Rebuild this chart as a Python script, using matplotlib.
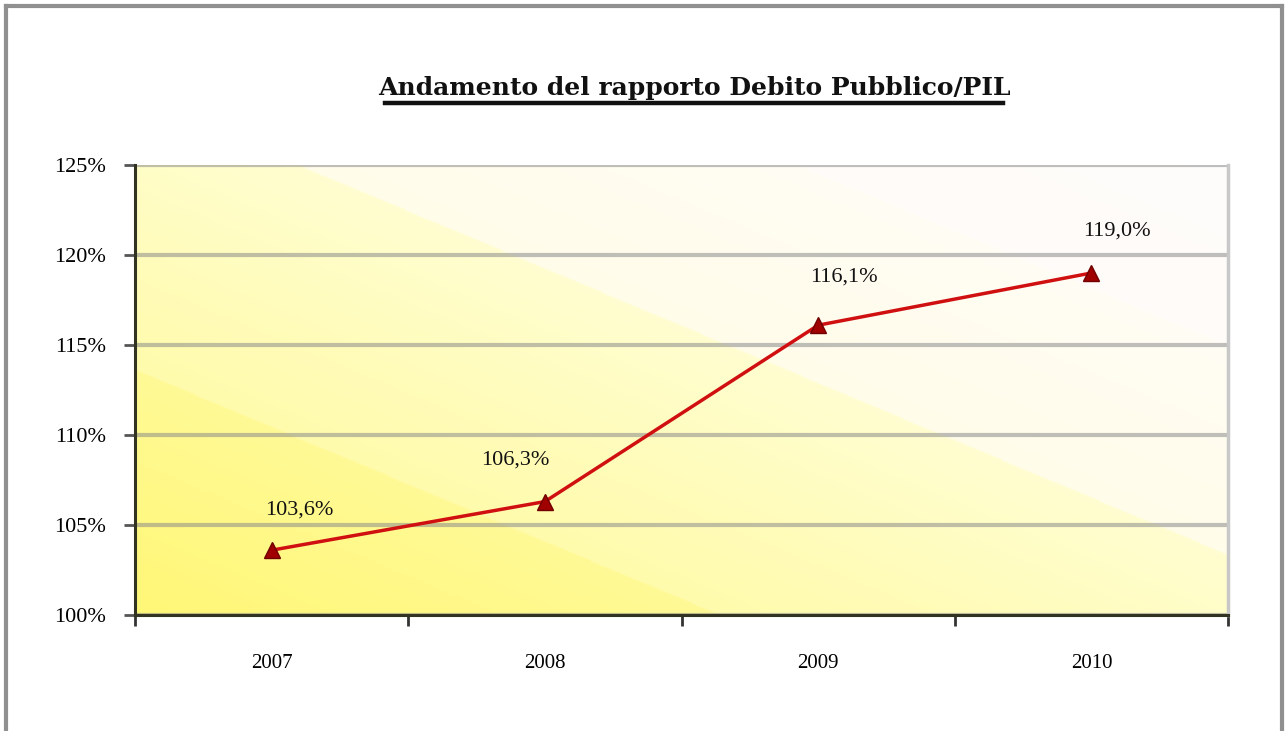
#!/usr/bin/env python
# -*- coding: utf-8 -*-

"""
Andamento del rapporto Debito Pubblico/PIL (2007-2010)
"""

import numpy as np
import matplotlib
matplotlib.use("Agg")
import matplotlib.pyplot as plt
from matplotlib.lines import Line2D
from matplotlib.ticker import FixedLocator, FuncFormatter

# dati
anni = ["2007", "2008", "2009", "2010"]
debito_pil = [103.6, 106.3, 116.1, 119.0]
etichette = ["103,6%", "106,3%", "116,1%", "119,0%"]
# spostamento delle etichette (pixel) rispetto al punto
off_x = [28, -30, 26, 26]
off_y = [40, 42, 48, 42]
y_ticks = [100, 105, 110, 115, 120, 125]

SERIF = ["Liberation Serif", "DejaVu Serif"]
W, H = 1287, 731


def sfondo(ax):
    """sfondo a bande diagonali giallo -> bianco"""
    nx, ny = 600, 300
    X, Y = np.meshgrid(np.linspace(0, 1, nx), np.linspace(0, 1, ny))
    s = 450 * Y + 459 * X
    img = np.ones((ny, nx, 3))
    bande = [
        (0, 245, (255, 247, 118), (255, 250, 150)),
        (245, 519, (255, 251, 172), (255, 254, 208)),
        (519, 729, (255, 252, 234), (255, 253, 244)),
        (729, 1000, (254, 251, 248), (255, 254, 253)),
    ]
    for a, b, c0, c1 in bande:
        m = (s >= a) & (s < b)
        t = ((s - a) / (b - a))[m]
        for k in range(3):
            img[..., k][m] = (c0[k] + (c1[k] - c0[k]) * t) / 255.0
    ax.imshow(img, extent=(0, 1, 0, 1), transform=ax.transAxes,
              origin="lower", aspect="auto", zorder=0, interpolation="bilinear")


def main():
    fig = plt.figure(figsize=(W / 100, H / 100), dpi=100)
    fig.patch.set_facecolor("white")

    ax = fig.add_axes([135 / W, 1 - 615 / H, 1093 / W, 450 / H])
    sfondo(ax)

    x = np.arange(len(anni))
    ax.plot(x, debito_pil, color="#D01010", linewidth=2.5, zorder=4)
    ax.plot(x, debito_pil, linestyle="none", marker="^", markersize=11,
            markerfacecolor="#A00000", markeredgecolor="#700000",
            markeredgewidth=1, zorder=5)

    for xi, yi, lab, dx, dy in zip(x, debito_pil, etichette, off_x, off_y):
        ax.annotate(lab, (xi, yi), xytext=(dx * 0.72, dy * 0.72),
                    textcoords="offset points", ha="center", va="center",
                    fontsize=16, family=SERIF, color="#111111", zorder=6)

    ax.set_xlim(-0.5, len(anni) - 0.5)
    ax.set_ylim(100, 125)

    # griglia orizzontale
    ax.yaxis.set_major_locator(FixedLocator(y_ticks))
    ax.yaxis.set_major_formatter(FuncFormatter(lambda v, p: f"{v:.0f}%"))
    ax.grid(axis="y", color="#8C8C8C", alpha=0.55, linewidth=3, zorder=1)
    for gl in ax.get_ygridlines():
        gl.set_zorder(1)

    # asse x a categorie, tacche tra le categorie
    ax.set_xticks(np.arange(-0.5, len(anni), 1.0))
    ax.set_xticklabels([])
    ax.set_xticks(x, minor=True)
    ax.set_xticklabels(anni, minor=True, fontsize=15, family=SERIF)
    ax.tick_params(axis="x", which="minor", length=0, pad=28)
    ax.tick_params(axis="x", which="major", length=8, width=2,
                   direction="out", color="#333333")
    ax.tick_params(axis="y", length=8, width=2, direction="out",
                   color="#555555", labelsize=16, pad=13)
    for t in ax.get_yticklabels():
        t.set_family(SERIF)

    for side in ("left", "bottom"):
        ax.spines[side].set_color("#333322")
        ax.spines[side].set_linewidth(2.2)
        ax.spines[side].set_zorder(3)
    ax.spines["top"].set_visible(False)
    ax.spines["right"].set_color("#C8C8C8")
    ax.spines["right"].set_linewidth(2.5)

    # titolo sottolineato
    fig.text(694 / W, 1 - 88 / H, "Andamento del rapporto Debito Pubblico/PIL",
             ha="center", va="center", fontsize=18, fontweight="bold",
             family=["DejaVu Serif"], color="#111111")
    fig.add_artist(Line2D([385 / W, 1003 / W], [1 - 103 / H, 1 - 103 / H],
                          transform=fig.transFigure, color="#111111",
                          linewidth=3.2))

    # cornice grigia
    c = "#909090"
    fig.add_artist(Line2D([6 / W, 6 / W], [0, 1 - 6 / H], color=c, linewidth=3,
                          transform=fig.transFigure))
    fig.add_artist(Line2D([6 / W, 1282 / W], [1 - 6 / H, 1 - 6 / H], color=c,
                          linewidth=3, transform=fig.transFigure))
    fig.add_artist(Line2D([1282 / W, 1282 / W], [0, 1 - 6 / H], color=c,
                          linewidth=3, transform=fig.transFigure))

    fig.savefig("out.png", dpi=100)


if __name__ == "__main__":
    main()
